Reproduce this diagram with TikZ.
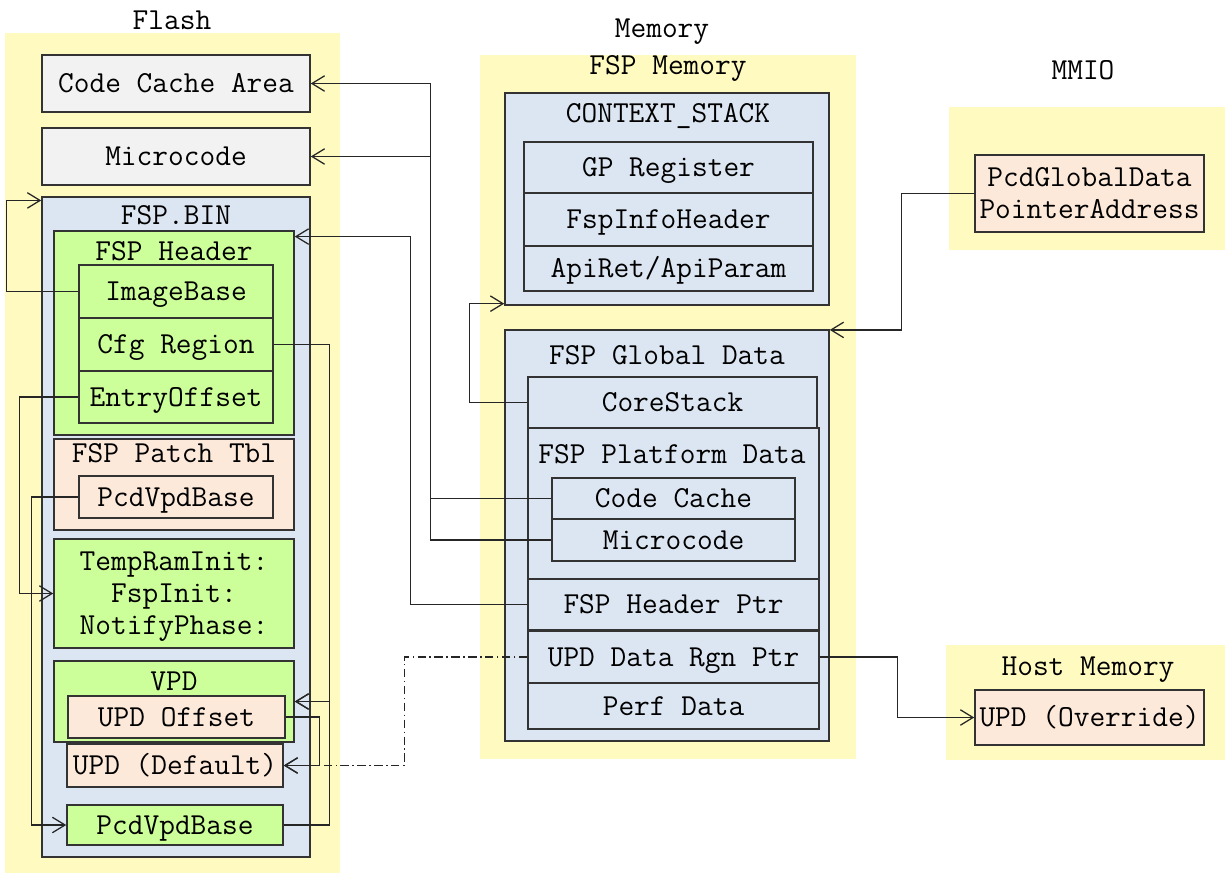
\documentclass[tikz,border=0pt]{standalone}
\usepackage{tikz}
\usetikzlibrary{fit,arrows.meta}
\definecolor{bgyellow}{RGB}{255,251,192}
\definecolor{boxblue}{RGB}{220,230,242}
\definecolor{boxgreen}{RGB}{204,255,153}
\definecolor{boxpeach}{RGB}{253,233,217}
\definecolor{boxgray}{RGB}{242,242,242}
\tikzset{
	area/.style={fill=bgyellow,inner sep=0pt},
	blk/.style={draw=black!80,line width=1.1pt,inner sep=0pt,text height=13pt,text depth=0pt},
	sz/.style 2 args={minimum width=#1*0.025cm,minimum height=#2*0.025cm},
	link/.style={draw=black!85,line width=0.9pt,-{Straight Barb[length=9pt,width=11pt]}},
}

\begin{document}
\begin{tikzpicture}[x=0.025cm,y=-0.025cm,font=\ttfamily\fontsize{21.7}{23}\selectfont,text=black]
		\useasboundingbox (0,0) rectangle (1225,875);
		\node[fit={(5,33)(340,873)},area] (flash) {};
		\node[fit={(480,55)(856,759)},area] (fspmem) {};
		\node[fit={(949,107)(1225,250)},area] (mmio) {};
		\node[fit={(946,645)(1225,760)},area] (hostmem) {};
		\node (flashlbl) at (172,20) {Flash};
		\node (memlbl) at (662,32) {Memory};
		\node (fspmemlbl) at (668,68) {FSP Memory};
		\node (mmiolbl) at (1083,70) {MMIO};
		\node (hostlbl) at (1088,670) {Host Memory};

		\node[blk,fill=boxgray,sz={268}{57}] (ccarea) at (176,83.5) {Code Cache Area};
		\node[blk,fill=boxgray,sz={268}{57}] (flashmc) at (176,156.5) {Microcode};
		\node[blk,fill=boxblue,sz={268}{660}] (fspbin) at (176,527) {};
		\node (fspbinlbl) at (176,215) {FSP.BIN};
		\node[blk,fill=boxgreen,sz={240}{204}] (fsphdr) at (174,333) {};
		\node (fsphdrlbl) at (174,251) {FSP Header};
		\node[blk,fill=boxgreen,sz={194}{53}] (imgbase) at (176,291.5) {ImageBase};
		\node[blk,fill=boxgreen,sz={194}{53}] (cfg) at (176,344.5) {Cfg Region};
		\node[blk,fill=boxgreen,sz={194}{52}] (entry) at (176,397) {EntryOffset};
		\node[blk,fill=boxpeach,sz={240}{91}] (patch) at (174,484.5) {};
		\node (patchlbl) at (174,453) {FSP Patch Tbl};
		\node[blk,fill=boxpeach,sz={194}{42}] (patchvpd) at (176,497) {PcdVpdBase};
		\node[blk,fill=boxgreen,sz={240}{109},align=center,text height=59pt] (apis) at (174,593.5) {TempRamInit:\\FspInit:\\NotifyPhase:};
		\node[blk,fill=boxgreen,sz={240}{81}] (vpd) at (174,701.5) {};
		\node (vpdlbl) at (174,681) {VPD};
		\node[blk,fill=boxpeach,sz={217}{42}] (updoff) at (176.5,717) {UPD Offset};
		\node[blk,fill=boxpeach,sz={216}{43}] (upddef) at (175,765.5) {UPD (Default)};
		\node[blk,fill=boxgreen,sz={216}{40}] (vpdbase) at (175,825) {PcdVpdBase};

		\node[blk,fill=boxblue,sz={324}{212}] (ctx) at (667,199) {};
		\node (ctxlbl) at (668,116) {CONTEXT\_STACK};
		\node[blk,fill=boxblue,sz={289}{51}] (gpreg) at (668.5,167.5) {GP Register};
		\node[blk,fill=boxblue,sz={289}{53}] (infohdr) at (668.5,219.5) {FspInfoHeader};
		\node[blk,fill=boxblue,sz={289}{45}] (apiret) at (668.5,268.5) {ApiRet/ApiParam};
		\node[blk,fill=boxblue,sz={324}{411}] (gdata) at (667,535.5) {};
		\node (gdatalbl) at (667,355) {FSP Global Data};
		\node[blk,fill=boxblue,sz={289}{51}] (corestk) at (672.5,402.5) {CoreStack};
		\node[blk,fill=boxblue,sz={291}{151}] (platform) at (673.5,503.5) {};
		\node (platformlbl) at (672,454) {FSP Platform Data};
		\node[blk,fill=boxblue,sz={243}{41}] (codecache) at (673.5,498.5) {Code Cache};
		\node[blk,fill=boxblue,sz={243}{42}] (pmc) at (673.5,540) {Microcode};
		\node[blk,fill=boxblue,sz={291}{51}] (hdrptr) at (673.5,604.5) {FSP Header Ptr};
		\node[blk,fill=boxblue,sz={291}{52}] (updptr) at (673.5,657) {UPD Data Rgn Ptr};
		\node[blk,fill=boxblue,sz={291}{46}] (perf) at (673.5,706) {Perf Data};

		\node[blk,fill=boxpeach,sz={229}{77},align=center,text height=36pt] (gptr) at (1089.5,193.5) {PcdGlobalData\\PointerAddress};
		\node[blk,fill=boxpeach,sz={229}{55}] (override) at (1089.5,717.5) {UPD (Override)};

		\draw[link] (imgbase.west) -- ++(-72,0) |- ([yshift=-3pt]fspbin.north west);
		\draw[link] (cfg.east) -- ++(56,0) |- (vpd.east);
		\draw[link] (vpdbase.east) -- ++(46,0) |- (vpd.east);
		\draw[link] (updoff.east) -- ++(34,0) |- (upddef.east);
		\draw[link,dash pattern=on 6pt off 2.5pt on 1pt off 2.5pt] (updptr.west) -- ++(-123,0) |- (upddef.east);
		\draw[link] (entry.west) -- ++(-59,0) |- (apis.west);
		\draw[link] (patchvpd.west) -- ++(-47,0) |- (vpdbase.west);
		\draw[link] (codecache.west) -- ++(-121,0) |- (ccarea.east);
		\draw[link] (pmc.west) -- ++(-121,0) |- (flashmc.east);
		\draw[link] (hdrptr.west) -- ++(-117,0) |- ([yshift=-4.5pt]fsphdr.north east);
		\draw[link] (corestk.west) -- ++(-58,0) |- ([yshift=1.5pt]ctx.south west);
		\draw[link] (gptr.west) -- ++(-73,0) |- ([yshift=-0.5pt]gdata.north east);
		\draw[link] (updptr.east) -- ++(78,0) |- (override.west);
\end{tikzpicture}
\end{document}
